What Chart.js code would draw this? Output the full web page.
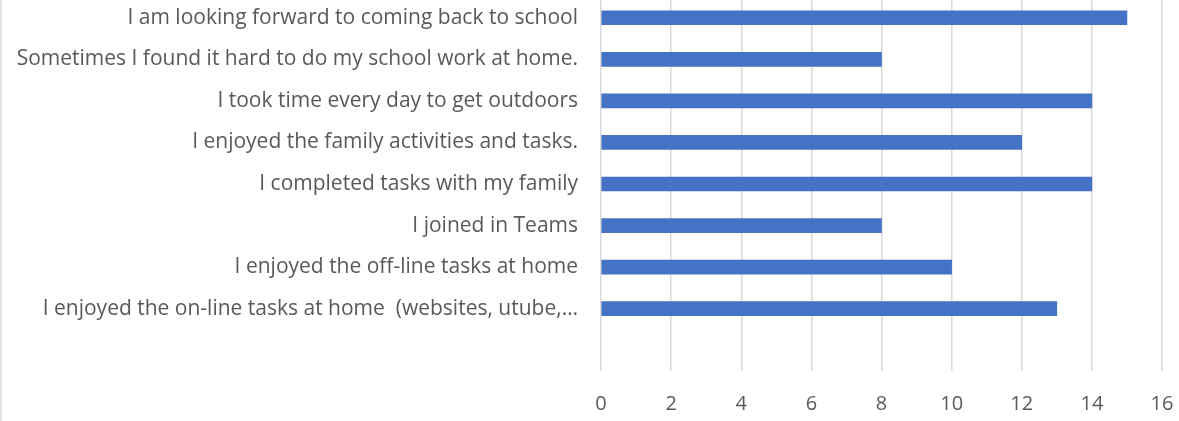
<!DOCTYPE html>
<html lang="en">
<head>
    <meta charset="UTF-8">
    <title>Survey responses</title>
    <script src="https://cdn.jsdelivr.net/npm/chart.js"></script>
    <style>
        body {
            margin: 0;
            background: #fff;
        }
        .chart-container {
            position: relative;
            width: 1179px;
            height: 421px;
            overflow: hidden;
        }
        .chart-container canvas {
            position: absolute;
            left: 0;
            top: -3px;
        }
        .edge {
            position: absolute;
            left: 0;
            top: 0;
            width: 2px;
            height: 421px;
            background: #e3e3e3;
        }
    </style>
</head>
<body>
    <div class="chart-container">
        <canvas id="surveyChart" width="1179" height="424"></canvas>
        <div class="edge"></div>
    </div>
    <script>
        // top to bottom, last row is the empty slot below the bars
        const statements = [
            'I am looking forward to coming back to school',
            'Sometimes I found it hard to do my school work at home.',
            'I took time every day to get outdoors',
            'I enjoyed the family activities and tasks.',
            'I completed tasks with my family',
            'I joined in Teams',
            'I enjoyed the off-line tasks at home',
            'I enjoyed the on-line tasks at home  (websites, utube,\u2026',
            ''
        ];
        const responses = [15, 8, 14, 12, 14, 8, 10, 13, null];
        const xTicks = [0, 2, 4, 6, 8, 10, 12, 14, 16];

        const ctx = document.getElementById('surveyChart').getContext('2d');
        new Chart(ctx, {
            type: 'bar',
            data: {
                labels: statements,
                datasets: [{
                    data: responses,
                    backgroundColor: '#4472C4',
                    barThickness: 14
                }]
            },
            options: {
                indexAxis: 'y',
                responsive: false,
                animation: false,
                layout: { padding: { top: 0, right: 17, bottom: 0, left: 0 } },
                plugins: {
                    legend: { display: false },
                    tooltip: { enabled: false }
                },
                scales: {
                    x: {
                        min: xTicks[0],
                        max: xTicks[xTicks.length - 1],
                        afterBuildTicks: scale => {
                            scale.ticks = xTicks.map(v => ({ value: v }));
                        },
                        afterFit: scale => {
                            scale.height = 50;
                            scale.paddingLeft = 0;
                            scale.paddingRight = 0;
                        },
                        grid: { color: '#d9d9d9', lineWidth: 1.5, drawTicks: false },
                        border: { display: false },
                        ticks: {
                            color: '#595959',
                            font: { family: "'Open Sans', sans-serif", size: 20 },
                            padding: 21
                        }
                    },
                    y: {
                        afterFit: scale => {
                            scale.width = 601;
                            scale.paddingTop = 0;
                            scale.paddingBottom = 0;
                        },
                        grid: { display: false },
                        border: { display: false },
                        ticks: {
                            color: '#595959',
                            font: { family: "'Open Sans', sans-serif", size: 21 },
                            padding: 15,
                            autoSkip: false
                        }
                    }
                }
            }
        });
    </script>
</body>
</html>
